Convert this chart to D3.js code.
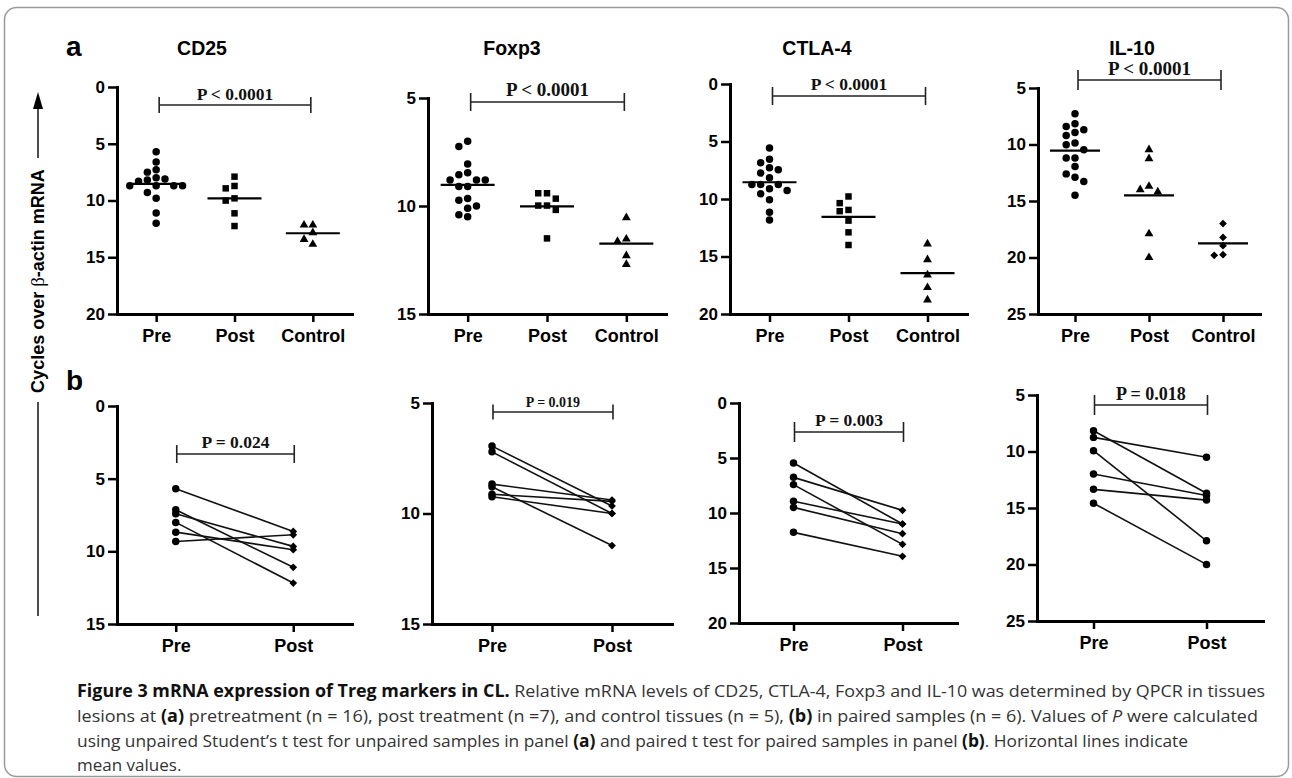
<!DOCTYPE html>
<html><head><meta charset="utf-8">
<script src="https://cdn.jsdelivr.net/npm/d3@7"></script>
<style>body{margin:0;background:#fff}svg{display:block}</style>
</head><body>
<svg id="c" width="1292" height="778"></svg>
<script>
// ---------------- DATA ----------------
const markers = ["CD25", "Foxp3", "CTLA-4", "IL-10"];
const groupsA = ["Pre", "Post", "Control"];
const groupsB = ["Pre", "Post"];

// Panel a: unpaired samples (Cycles over beta-actin mRNA)
const cd25Pre = [5.7, 6.6, 7.3, 7.5, 8.0, 8.1, 8.2, 8.3, 8.7, 8.7, 8.7, 8.7, 9.3, 9.8, 11.1, 12.0];
const cd25Post = [7.9, 8.72, 8.93, 9.81, 10.01, 11.13, 12.25];
const cd25Control = [12.16, 12.16, 12.83, 13.42, 13.86];

const foxp3Pre = [7.0, 7.25, 8.06, 8.46, 8.55, 8.8, 8.8, 8.8, 9.1, 9.1, 9.65, 9.73, 10.0, 10.1, 10.4, 10.5];
const foxp3Post = [9.41, 9.66, 9.41, 9.98, 10.18, 9.98, 11.5];
const foxp3Control = [10.54, 11.53, 11.64, 12.3, 12.7];

const ctla4Pre = [5.56, 6.55, 6.84, 7.28, 7.45, 7.74, 8.15, 8.73, 8.73, 8.73, 9.1, 9.26, 9.55, 10.07, 11.15, 11.82];
const ctla4Post = [9.78, 10.36, 10.95, 11.06, 11.88, 12.9, 14.0];
const ctla4Control = [13.9, 15.28, 16.6, 17.7, 18.78];

const il10Pre = [7.27, 8.16, 8.4, 8.69, 8.93, 9.2, 9.87, 10.02, 10.46, 11.2, 11.2, 11.94, 12.6, 12.9, 13.27, 14.5];
const il10Post = [10.46, 11.26, 13.7, 14.0, 14.2, 17.9, 20.0];
const il10Control = [17.0, 18.22, 18.96, 19.75, 19.81];

// Panel b: paired samples (same index = same patient)
const cd25PairPre = [5.7, 7.14, 7.42, 8.01, 8.68, 9.32];
const cd25PairPost = [8.63, 11.1, 9.66, 12.18, 9.89, 8.86];
const foxp3PairPre = [6.95, 7.21, 8.67, 8.79, 9.13, 9.24];
const foxp3PairPost = [9.66, 10.0, 9.39, 11.45, 9.45, 10.0];
const ctla4PairPre = [5.45, 6.76, 7.42, 8.94, 9.49, 11.76];
const ctla4PairPost = [11.0, 9.76, 12.85, 11.0, 11.88, 13.94];
const il10PairPre = [8.16, 8.75, 9.93, 11.99, 13.35, 14.58];
const il10PairPost = [13.7, 10.51, 17.9, 13.9, 14.3, 19.99];

// Axis domains and ticks
const domainsA = [[0, 20], [5, 15], [0, 20], [5, 25]];
const ticksA = [[0, 5, 10, 15, 20], [5, 10, 15], [0, 5, 10, 15, 20], [5, 10, 15, 20, 25]];
const domainsB = [[0, 15], [5, 15], [0, 20], [5, 25]];
const ticksB = [[0, 5, 10, 15], [5, 10, 15], [0, 5, 10, 15, 20], [5, 10, 15, 20, 25]];

const pLabelsA = ["P < 0.0001", "P < 0.0001", "P < 0.0001", "P < 0.0001"];
const pLabelsB = ["P = 0.024", "P = 0.019", "P = 0.003", "P = 0.018"];

const yAxisTitle = ["Cycles over", "β-actin mRNA"];
const panelLetters = ["a", "b"];

const captionLines = [
  [["Figure 3 mRNA expression of Treg markers in CL.", "b"], [" Relative mRNA levels of CD25, CTLA-4, Foxp3 and IL-10 was determined by QPCR in tissues", "r"]],
  [["lesions at ", "r"], ["(a)", "b"], [" pretreatment (n = 16), post treatment (n =7), and control tissues (n = 5), ", "r"], ["(b)", "b"], [" in paired samples (n = 6). Values of ", "r"], ["P", "i"], [" were calculated", "r"]],
  [["using unpaired Student’s t test for unpaired samples in panel ", "r"], ["(a)", "b"], [" and paired t test for paired samples in panel ", "r"], ["(b)", "b"], [". Horizontal lines indicate", "r"]],
  [["mean values.", "r"]]
];

// ---------------- LAYOUT ----------------
const groupDataA = [
  [cd25Pre, cd25Post, cd25Control],
  [foxp3Pre, foxp3Post, foxp3Control],
  [ctla4Pre, ctla4Post, ctla4Control],
  [il10Pre, il10Post, il10Control]
];
const pairDataB = [
  [cd25PairPre, cd25PairPost],
  [foxp3PairPre, foxp3PairPost],
  [ctla4PairPre, ctla4PairPost],
  [il10PairPre, il10PairPost]
];
const shapesA = [
  ["circle", "square", "triangle"],
  ["circle", "square", "triangle"],
  ["circle", "square", "triangle"],
  ["circle", "triangle", "diamond"]
];
const shapesB = [["circle", "diamond"], ["circle", "diamond"], ["circle", "diamond"], ["circle", "circle"]];

const layA = [
  {x0: 117, yTop: 87, yBot: 314, w: 235, by: 105, ly: 100, bt: 8, fs: 17.5, meanHalf: 27},
  {x0: 428, yTop: 98, yBot: 314, w: 238, by: 102, ly: 96, bt: 9, fs: 19, meanHalf: 27},
  {x0: 730, yTop: 84, yBot: 314, w: 237, by: 96, ly: 89.5, bt: 9, fs: 17.5, meanHalf: 27},
  {x0: 1038, yTop: 88, yBot: 314, w: 222, by: 80, ly: 74.5, bt: 10, fs: 19, meanHalf: 25}
];
const layB = [
  {x0: 117, yTop: 406, yBot: 624, w: 235, by: 454, ly: 448, bt: 9, fs: 17.5},
  {x0: 432, yTop: 403, yBot: 624, w: 240, by: 412, ly: 407, bt: 7.5, fs: 14},
  {x0: 739, yTop: 403, yBot: 623, w: 218, by: 432, ly: 425.5, bt: 10, fs: 17.5},
  {x0: 1037, yTop: 395, yBot: 621, w: 226, by: 405, ly: 400, bt: 10, fs: 18}
];

const SANS = "'Liberation Sans', Arial, Helvetica, sans-serif";
const SERIF = "'Liberation Serif', 'Times New Roman', serif";

const svg = d3.select("#c");

// border
svg.append("rect").attr("x", 4.5).attr("y", 7.5).attr("width", 1284).attr("height", 769)
  .attr("rx", 12).attr("fill", "none").attr("stroke", "#9a9a9a").attr("stroke-width", 1.5);

function symbolPath(shape) {
  if (shape === "circle") return d3.symbol().type(d3.symbolCircle).size(44)();
  if (shape === "square") return d3.symbol().type(d3.symbolSquare).size(42)();
  if (shape === "triangle") return d3.symbol().type(d3.symbolTriangle).size(34)();
  if (shape === "diamond") return d3.symbol().type(d3.symbolSquare).size(30)();
  return d3.symbol()();
}
function symbolRot(shape) { return shape === "diamond" ? " rotate(45)" : ""; }

// simple deterministic beeswarm (like a column scatter)
function swarm(vals, y, d, minDist) {
  const idx = vals.map((v, i) => i).sort((a, b) => vals[a] - vals[b]);
  const placed = [], off = new Array(vals.length).fill(0);
  idx.forEach(i => {
    const yi = y(vals[i]);
    for (let k = 0; k < 30; k++) {
      const m = Math.ceil(k / 2);
      const cand = k === 0 ? 0 : (k % 2 ? -m * d : m * d);
      if (placed.every(p => Math.hypot(p.x - cand, p.y - yi) >= minDist)) {
        off[i] = cand; placed.push({x: cand, y: yi}); break;
      }
    }
  });
  return off;
}

function styleAxis(g, fs) {
  g.selectAll(".domain").attr("stroke", "#000").attr("stroke-width", 3).attr("stroke-linecap", "square");
  g.selectAll(".tick line").attr("stroke", "#000").attr("stroke-width", 2.5);
  g.selectAll(".tick text").attr("fill", "#000").attr("font-family", SANS)
    .attr("font-weight", "bold").attr("font-size", fs);
}

function bracket(g, x1, x2, yb, ht, label, ly, fs) {
  const b = g.append("g").attr("stroke", "#222").attr("stroke-width", 1.6).attr("fill", "none");
  b.append("line").attr("x1", x1).attr("x2", x2).attr("y1", yb).attr("y2", yb);
  b.append("line").attr("x1", x1).attr("x2", x1).attr("y1", yb - ht).attr("y2", yb + ht);
  b.append("line").attr("x1", x2).attr("x2", x2).attr("y1", yb - ht).attr("y2", yb + ht);
  g.append("text").attr("x", (x1 + x2) / 2).attr("y", ly).attr("text-anchor", "middle")
    .attr("font-family", SERIF).attr("font-weight", "bold").attr("font-size", fs).attr("fill", "#111")
    .text(label);
}

// ---------- Panel row a ----------
markers.forEach((mk, pi) => {
  const L = layA[pi];
  const g = svg.append("g");
  const y = d3.scaleLinear().domain(domainsA[pi]).range([L.yTop, L.yBot]);
  const x = d3.scalePoint().domain(groupsA).range([L.x0, L.x0 + L.w]).padding(0.5);

  const tx = [202, 512, 817, 1132][pi];
  svg.append("text").attr("x", tx).attr("y", 55).attr("text-anchor", "middle")
    .attr("font-family", SANS).attr("font-weight", "bold").attr("font-size", 19.5).text(mk);

  const ya = g.append("g").attr("transform", `translate(${L.x0},0)`)
    .call(d3.axisLeft(y).tickValues(ticksA[pi]).tickSize(9).tickSizeOuter(0).tickPadding(3).tickFormat(d3.format("d")));
  styleAxis(ya, 17);
  const xa = g.append("g").attr("transform", `translate(0,${L.yBot})`)
    .call(d3.axisBottom(x).tickSize(8).tickSizeOuter(0).tickPadding(7));
  styleAxis(xa, 18);

  groupsA.forEach((grp, gi) => {
    const vals = groupDataA[pi][gi];
    const off = swarm(vals, y, 8.8, 7.6);
    const shape = shapesA[pi][gi];
    g.append("g").selectAll("path").data(vals).join("path")
      .attr("d", symbolPath(shape))
      .attr("transform", (v, i) => `translate(${x(grp) + off[i]},${y(v)})${symbolRot(shape)}`)
      .attr("fill", "#000");
    const m = d3.mean(vals);
    g.append("line").attr("x1", x(grp) - L.meanHalf).attr("x2", x(grp) + L.meanHalf)
      .attr("y1", y(m)).attr("y2", y(m)).attr("stroke", "#000").attr("stroke-width", 2.2);
  });

  bracket(g, x("Pre") + 3, x("Control") - 2, L.by, L.bt, pLabelsA[pi], L.ly, L.fs);
});

// ---------- Panel row b ----------
markers.forEach((mk, pi) => {
  const L = layB[pi];
  const g = svg.append("g");
  const y = d3.scaleLinear().domain(domainsB[pi]).range([L.yTop, L.yBot]);
  const x = d3.scalePoint().domain(groupsB).range([L.x0, L.x0 + L.w]).padding(0.5);

  const ya = g.append("g").attr("transform", `translate(${L.x0},0)`)
    .call(d3.axisLeft(y).tickValues(ticksB[pi]).tickSize(9).tickSizeOuter(0).tickPadding(3).tickFormat(d3.format("d")));
  styleAxis(ya, 17);
  const xa = g.append("g").attr("transform", `translate(0,${L.yBot})`)
    .call(d3.axisBottom(x).tickSize(8).tickSizeOuter(0).tickPadding(7));
  styleAxis(xa, 18);

  const pre = pairDataB[pi][0], post = pairDataB[pi][1];
  g.append("g").selectAll("line").data(pre).join("line")
    .attr("x1", x("Pre")).attr("x2", x("Post"))
    .attr("y1", v => y(v)).attr("y2", (v, i) => y(post[i]))
    .attr("stroke", "#111").attr("stroke-width", 1.6);
  [["Pre", pre, shapesB[pi][0]], ["Post", post, shapesB[pi][1]]].forEach(([grp, vals, shape]) => {
    g.append("g").selectAll("path").data(vals).join("path")
      .attr("d", symbolPath(shape === "circle" ? "circle" : "diamond"))
      .attr("transform", v => `translate(${x(grp)},${y(v)})${symbolRot(shape)}`)
      .attr("fill", "#000");
  });

  bracket(g, x("Pre") + 1, x("Post") + 1, L.by, L.bt, pLabelsB[pi], L.ly, L.fs);
});

// panel letters
svg.append("text").attr("x", 66).attr("y", 56).attr("font-family", SANS).attr("font-weight", "bold")
  .attr("font-size", 28).text(panelLetters[0]);
svg.append("text").attr("x", 66).attr("y", 390).attr("font-family", SANS).attr("font-weight", "bold")
  .attr("font-size", 28).text(panelLetters[1]);

// y axis title with arrow
const yt = svg.append("text").attr("transform", "translate(44,281) rotate(-90)")
  .attr("text-anchor", "middle").attr("font-family", SANS).attr("font-size", 18).attr("font-weight", "bold");
yt.append("tspan").text(yAxisTitle[0] + "  ");
yt.append("tspan").attr("font-weight", "normal").attr("font-family", SERIF).attr("font-size", 19).text(yAxisTitle[1].slice(0, 1));
yt.append("tspan").text(yAxisTitle[1].slice(1));
svg.append("line").attr("x1", 38).attr("x2", 38).attr("y1", 108).attr("y2", 158).attr("stroke", "#000").attr("stroke-width", 1.4);
svg.append("path").attr("d", "M38,92 L33,109 L43,109 Z").attr("fill", "#000");
svg.append("line").attr("x1", 38).attr("x2", 38).attr("y1", 402).attr("y2", 616).attr("stroke", "#000").attr("stroke-width", 1.4);

// caption
const capWidths = [1188, 1181, 1111, null];
const capY = [697, 722, 747, 771];
captionLines.forEach((line, li) => {
  const t = svg.append("text").attr("x", 77).attr("y", capY[li])
    .attr("font-family", "'Open Sans', 'Noto Sans', sans-serif").attr("font-size", 17).attr("fill", "#333");
  if (capWidths[li]) t.attr("textLength", capWidths[li]).attr("lengthAdjust", "spacingAndGlyphs");
  line.forEach(([s, st]) => {
    const sp = t.append("tspan").text(s);
    if (st === "b") sp.attr("font-weight", "bold").attr("fill", "#111");
    if (st === "i") sp.attr("font-style", "italic");
  });
});
</script>
</body></html>
